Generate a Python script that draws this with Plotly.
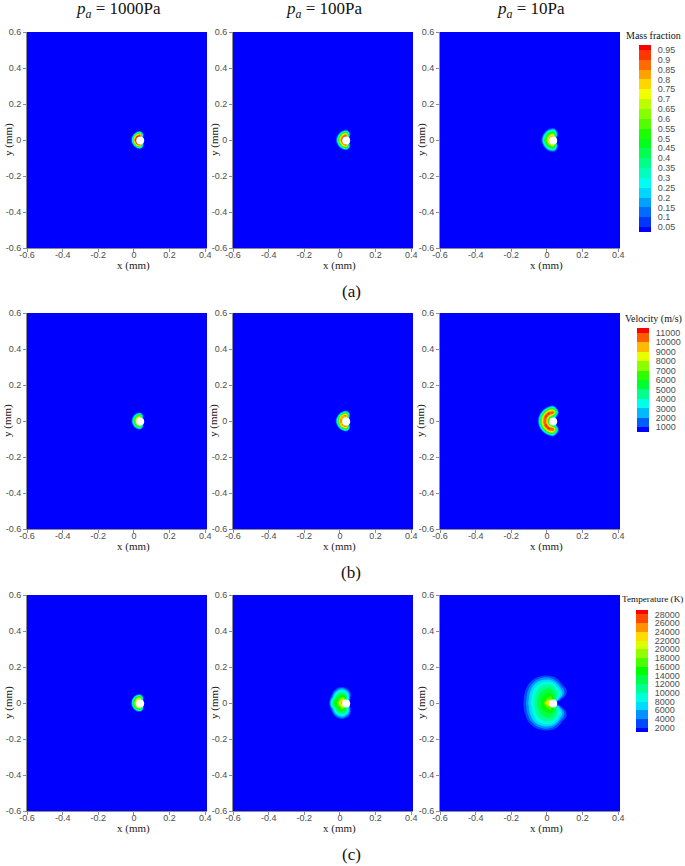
"""
plot.py - mass fraction, velocity and temperature fields at three ambient pressures
"""

import plotly.graph_objects as go

WIDTH, HEIGHT = 685, 866

PRESSURES = ["1000Pa", "100Pa", "10Pa"]
ROW_CAPTIONS = ["(a)", "(b)", "(c)"]
X_TICKS = [-0.6, -0.4, -0.2, 0, 0.2, 0.4]
X_LABELS = ["-0.6", "-0.4", "-0.2", "0", "0.2", "0.4"]
Y_TICKS = [-0.6, -0.4, -0.2, 0, 0.2, 0.4, 0.6]
Y_LABELS = ["-0.6", "-0.4", "-0.2", "0", "0.2", "0.4", "0.6"]
PARTICLE_X = [0.035]
PARTICLE_Y = [-0.003]

MASS_LEVELS = [round(0.05 * i, 2) for i in range(1, 20)]
VEL_LEVELS = list(range(1000, 12000, 1000))
TEMP_LEVELS = list(range(2000, 30000, 2000))

# sampled grids (mm), only the upper half y >= 0, the fields are symmetric
X_SMALL = [-0.035, -0.025, -0.015, -0.005, 0.005, 0.015, 0.025, 0.035, 0.045, 0.055, 0.065, 0.075, 0.085]
Y_SMALL = [0, 0.01, 0.02, 0.03, 0.04, 0.05, 0.06, 0.07]
X_VEL10 = [-0.065, -0.055, -0.045, -0.035, -0.025, -0.015, -0.005, 0.005, 0.015, 0.025, 0.035, 0.045, 0.055, 0.065, 0.075]
Y_VEL10 = [0, 0.01, 0.02, 0.03, 0.04, 0.05, 0.06, 0.07, 0.08, 0.09]
X_TEMP100 = [-0.09, -0.075, -0.06, -0.045, -0.03, -0.015, 0, 0.015, 0.03, 0.045, 0.06, 0.075]
Y_TEMP100 = [0, 0.015, 0.03, 0.045, 0.06, 0.075, 0.09, 0.105]
X_TEMP10 = [-0.16, -0.14, -0.12, -0.10, -0.08, -0.06, -0.04, -0.02, 0, 0.02, 0.04, 0.06, 0.08, 0.10, 0.12]
Y_TEMP10 = [0, 0.02, 0.04, 0.06, 0.08, 0.10, 0.12, 0.14, 0.16, 0.18]

# field values, percent of the colour bar top
MASS_1000 = [
    [0, 0, 0, 45, 90, 100, 100, 100, 0, 0, 0, 0, 0],
    [0, 0, 0, 40, 80, 97, 100, 100, 0, 0, 0, 0, 0],
    [0, 0, 0, 20, 62, 92, 97, 97, 30, 0, 0, 0, 0],
    [0, 0, 0, 0, 33, 62, 80, 85, 40, 0, 0, 0, 0],
    [0, 0, 0, 0, 0, 20, 40, 45, 15, 0, 0, 0, 0],
    [0] * 13, [0] * 13, [0] * 13,
]
MASS_100 = [
    [0, 0, 20, 55, 85, 95, 95, 95, 0, 0, 0, 0, 0],
    [0, 0, 18, 52, 80, 95, 95, 95, 20, 0, 0, 0, 0],
    [0, 0, 8, 38, 65, 85, 95, 95, 45, 0, 0, 0, 0],
    [0, 0, 0, 20, 45, 68, 78, 85, 50, 10, 0, 0, 0],
    [0, 0, 0, 0, 20, 38, 52, 55, 35, 8, 0, 0, 0],
    [0, 0, 0, 0, 0, 8, 18, 20, 10, 0, 0, 0, 0],
    [0] * 13, [0] * 13,
]
MASS_10 = [
    [0, 16, 38, 52, 70, 85, 85, 85, 0, 0, 0, 0, 0],
    [0, 14, 36, 50, 66, 85, 85, 85, 20, 0, 0, 0, 0],
    [0, 8, 30, 42, 58, 72, 84, 85, 50, 8, 0, 0, 0],
    [0, 2, 18, 38, 48, 58, 64, 70, 50, 20, 0, 0, 0],
    [0, 0, 6, 22, 38, 44, 50, 52, 38, 15, 0, 0, 0],
    [0, 0, 0, 8, 20, 28, 36, 38, 28, 8, 0, 0, 0],
    [0, 0, 0, 0, 4, 10, 14, 16, 10, 0, 0, 0, 0],
    [0] * 13,
]
VEL_1000 = [
    [0, 0, 4, 28, 58, 70, 70, 70, 0, 0, 0, 0, 0],
    [0, 0, 3, 26, 52, 70, 70, 70, 0, 0, 0, 0, 0],
    [0, 0, 0, 14, 40, 62, 70, 70, 30, 0, 0, 0, 0],
    [0, 0, 0, 4, 24, 42, 52, 58, 30, 0, 0, 0, 0],
    [0, 0, 0, 0, 4, 14, 26, 28, 10, 0, 0, 0, 0],
    [0] * 13, [0] * 13, [0] * 13,
]
VEL_100 = [
    [0, 3, 32, 62, 88, 75, 75, 75, 0, 0, 0, 0, 0],
    [0, 3, 28, 58, 85, 75, 75, 75, 15, 0, 0, 0, 0],
    [0, 0, 15, 48, 78, 85, 75, 75, 40, 0, 0, 0, 0],
    [0, 0, 3, 32, 60, 78, 85, 88, 55, 8, 0, 0, 0],
    [0, 0, 0, 4, 32, 48, 60, 62, 40, 10, 0, 0, 0],
    [0, 0, 0, 0, 3, 15, 28, 32, 18, 2, 0, 0, 0],
    [0] * 13, [0] * 13,
]
VEL_10 = [
    [0, 0, 20, 48, 72, 92, 85, 55, 40, 40, 0, 0, 0, 0, 0],
    [0, 0, 17, 46, 70, 90, 87, 62, 40, 40, 30, 0, 0, 0, 0],
    [0, 0, 14, 40, 66, 87, 93, 75, 52, 40, 40, 25, 5, 0, 0],
    [0, 0, 5, 30, 55, 78, 95, 88, 75, 62, 50, 35, 15, 0, 0],
    [0, 0, 0, 17, 43, 62, 82, 95, 93, 87, 85, 60, 30, 8, 0],
    [0, 0, 0, 3, 25, 46, 62, 78, 87, 90, 92, 70, 40, 10, 0],
    [0, 0, 0, 0, 5, 25, 43, 55, 66, 70, 72, 50, 25, 5, 0],
    [0, 0, 0, 0, 0, 3, 15, 30, 42, 46, 48, 30, 10, 0, 0],
    [0, 0, 0, 0, 0, 0, 0, 5, 12, 18, 20, 8, 0, 0, 0],
    [0] * 15,
]
TEMP_1000 = [
    [0, 0, 6, 38, 62, 80, 80, 80, 0, 0, 0, 0, 0],
    [0, 0, 4, 35, 58, 80, 80, 80, 10, 0, 0, 0, 0],
    [0, 0, 0, 22, 48, 68, 80, 80, 40, 0, 0, 0, 0],
    [0, 0, 0, 6, 30, 50, 58, 62, 35, 0, 0, 0, 0],
    [0, 0, 0, 0, 6, 22, 35, 38, 15, 0, 0, 0, 0],
    [0] * 13, [0] * 13, [0] * 13,
]
TEMP_100 = [
    [0, 0, 8, 32, 48, 55, 75, 85, 60, 10, 0, 0],
    [0, 0, 3, 30, 46, 52, 60, 75, 60, 30, 0, 0],
    [0, 0, 2, 14, 32, 46, 52, 58, 48, 30, 5, 0],
    [0, 0, 0, 8, 26, 38, 44, 46, 40, 28, 8, 0],
    [0, 0, 0, 2, 16, 28, 34, 36, 30, 20, 5, 0],
    [0, 0, 0, 0, 5, 14, 20, 22, 16, 8, 0, 0],
    [0, 0, 0, 0, 0, 1, 4, 5, 2, 0, 0, 0],
    [0] * 12,
]
TEMP_10 = [
    [0, 3, 12, 22, 30, 38, 45, 50, 75, 85, 10, 0, 0, 0, 0],
    [0, 3, 11, 21, 29, 37, 44, 50, 55, 62, 45, 25, 6, 0, 0],
    [0, 2, 10, 20, 28, 35, 42, 47, 50, 52, 45, 34, 22, 8, 0],
    [0, 1, 8, 18, 26, 33, 39, 43, 45, 45, 40, 33, 25, 12, 2],
    [0, 0, 5, 14, 23, 30, 35, 38, 40, 40, 36, 28, 18, 10, 1],
    [0, 0, 2, 9, 18, 25, 30, 33, 34, 33, 30, 22, 10, 2, 0],
    [0, 0, 0, 3, 10, 17, 22, 25, 26, 25, 20, 12, 4, 0, 0],
    [0, 0, 0, 0, 2, 7, 11, 14, 15, 13, 9, 4, 0, 0, 0],
    [0, 0, 0, 0, 0, 0, 0, 1, 2, 1, 0, 0, 0, 0, 0],
    [0] * 15,
]

JET = [[0, "#0000ff"], [0.25, "#00ffff"], [0.5, "#00ff00"], [0.75, "#ffff00"], [1, "#ff0000"]]
SANS = "Liberation Sans, Arial, sans-serif"
SERIF = "Liberation Serif, Times New Roman, serif"
TICK_COLOR = "#4d4d4d"


def px_x(px):
    return px / WIDTH


def px_y(px):
    return 1 - px / HEIGHT


def mirror(xs, ys, rows, top):
    """Complete the lower half and turn percents into field units."""
    y_full = [-v for v in ys[:0:-1]] + ys
    z_full = rows[:0:-1] + rows
    return xs, y_full, [[v * top / 100 for v in row] for row in z_full]


def note(text, size, color="#111111", **where):
    return dict(text=text, showarrow=False, xanchor="center", yanchor="middle",
                borderpad=0, font=dict(family=SERIF, size=size, color=color), **where)


# one row per field: grids, levels, bar top, bar box and bar title
ROWS = [
    dict(
        panels=[(X_SMALL, Y_SMALL, MASS_1000), (X_SMALL, Y_SMALL, MASS_100), (X_SMALL, Y_SMALL, MASS_10)],
        levels=MASS_LEVELS, top=1.0, step=0.05, labels=[str(v) for v in MASS_LEVELS],
        y0=32, y1=248, bar_x=639, bar_y=45, bar_len=187,
        title="Mass fraction", title_x=653, title_y=36, title_size=10,
    ),
    dict(
        panels=[(X_SMALL, Y_SMALL, VEL_1000), (X_SMALL, Y_SMALL, VEL_100), (X_VEL10, Y_VEL10, VEL_10)],
        levels=VEL_LEVELS, top=12000, step=1000, labels=[str(v) for v in VEL_LEVELS],
        y0=313, y1=529, bar_x=637, bar_y=328, bar_len=104,
        title="Velocity (m/s)", title_x=653, title_y=319, title_size=10,
    ),
    dict(
        panels=[(X_SMALL, Y_SMALL, TEMP_1000), (X_TEMP100, Y_TEMP100, TEMP_100), (X_TEMP10, Y_TEMP10, TEMP_10)],
        levels=TEMP_LEVELS, top=30000, step=2000, labels=[str(v) for v in TEMP_LEVELS],
        y0=595, y1=811, bar_x=636, bar_y=610, bar_len=122,
        title="Temperature (K)", title_x=652.5, title_y=599, title_size=9.2,
    ),
]
COLUMNS = [(27, 207), (233, 413), (440, 620)]

fig = go.Figure()
layout = {}
notes = []
n = 0
for r, row in enumerate(ROWS):
    levels, step = row["levels"], row["step"]
    zmin, zmax = levels[0] - step / 2, levels[-1] + step / 2
    for c, (xs, ys, rows) in enumerate(row["panels"]):
        n += 1
        x_grid, y_grid, z_grid = mirror(xs, ys, rows, row["top"])
        fig.add_trace(go.Contour(
            x=x_grid, y=y_grid, z=z_grid,
            xaxis=f"x{n}", yaxis=f"y{n}",
            zmin=zmin, zmax=zmax,
            colorscale=JET,
            contours=dict(start=levels[0], end=levels[-1], size=step,
                          coloring="fill", showlines=False),
            line_width=0,
            showscale=False,
            hoverinfo="skip",
        ))
        fig.add_trace(go.Scatter(
            x=PARTICLE_X, y=PARTICLE_Y, xaxis=f"x{n}", yaxis=f"y{n}",
            mode="markers", marker=dict(color="white", size=8),
            showlegend=False, hoverinfo="skip",
        ))
        x0, x1 = COLUMNS[c]
        axis_style = dict(
            showgrid=False, zeroline=False, showline=True, linecolor="#8c8c8c", linewidth=1,
            ticks="outside", ticklen=3, tickcolor="#8c8c8c", tickwidth=1,
            tickfont=dict(family=SANS, size=9, color=TICK_COLOR), tickangle=0,
        )
        layout[f"xaxis{n}"] = dict(
            domain=[px_x(x0), px_x(x1)], range=[-0.6, 0.41], anchor=f"y{n}",
            tickmode="array", tickvals=X_TICKS, ticktext=X_LABELS,
            ticklabelstandoff=-5, **axis_style,
        )
        layout[f"yaxis{n}"] = dict(
            domain=[px_y(row["y1"]), px_y(row["y0"])], range=[-0.6, 0.6], anchor=f"x{n}",
            tickmode="array", tickvals=Y_TICKS, ticktext=Y_LABELS, **axis_style,
        )
        notes.append(note("x (mm)", 11, "#222222", xref=f"x{n}", x=0,
                          yref="paper", y=px_y(row["y1"] + 17)))
        notes.append(note("y (mm)", 11, "#222222", xref="paper", x=px_x(x0 - 19),
                          yref=f"y{n}", y=0, textangle=-90))

    # colour bar drawn as its own one column heatmap on its own axes
    n += 1
    edges = [zmin] + levels + [zmax]
    bands = [zmin] + [v + step / 2 for v in levels]
    fig.add_trace(go.Heatmap(
        x=[0, 1], y=edges, z=[[v] for v in bands],
        xaxis=f"x{n}", yaxis=f"y{n}",
        zmin=zmin, zmax=zmax, colorscale=JET, showscale=False, hoverinfo="skip",
    ))
    layout[f"xaxis{n}"] = dict(
        domain=[px_x(row["bar_x"]), px_x(row["bar_x"] + 12)], range=[0, 1], anchor=f"y{n}", visible=False,
    )
    layout[f"yaxis{n}"] = dict(
        domain=[px_y(row["bar_y"] + row["bar_len"]), px_y(row["bar_y"])], range=[zmin, zmax],
        anchor=f"x{n}", side="right", showgrid=False, zeroline=False, showline=False,
        tickmode="array", tickvals=levels, ticktext=row["labels"],
        ticks="outside", ticklen=4, tickcolor="white",
        tickfont=dict(family=SANS, size=9, color=TICK_COLOR),
    )
    notes.append(note(row["title"], row["title_size"], xref="paper", x=px_x(row["title_x"]),
                      yref="paper", y=px_y(row["title_y"])))
    notes.append(note(ROW_CAPTIONS[r], 17, xref="paper", x=px_x(351),
                      yref="paper", y=px_y(row["y1"] + 43)))

for (x0, x1), pressure in zip(COLUMNS, PRESSURES):
    notes.append(note(f"<i>p<sub>a</sub></i> = {pressure}", 17, xref="paper",
                      x=px_x((x0 + x1) / 2 + 1), yref="paper", y=px_y(10)))

fig.update_layout(
    width=WIDTH, height=HEIGHT,
    margin=dict(t=0, b=0, l=0, r=0, autoexpand=False),
    paper_bgcolor="white",
    plot_bgcolor="#0000ff",
    showlegend=False,
    annotations=notes,
    **layout,
)
fig.write_html("out.html", config={"displayModeBar": False},
               post_script="document.body.style.margin = 0;")
